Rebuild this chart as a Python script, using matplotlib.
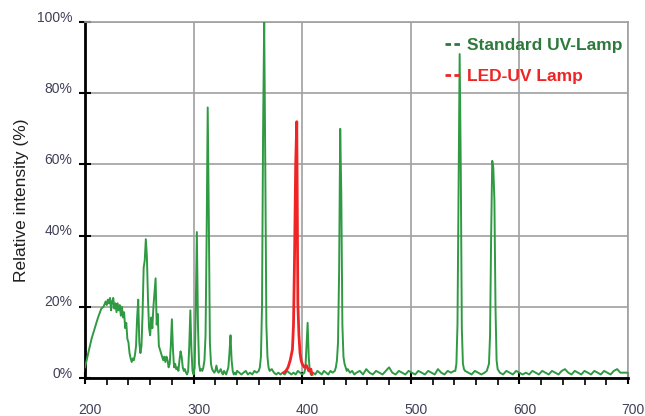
import numpy as np
import matplotlib
matplotlib.use('Agg')
import matplotlib.pyplot as plt
from matplotlib.lines import Line2D
from matplotlib.transforms import ScaledTranslation

# Standard UV lamp (mercury) spectrum as (nm, %) pairs
std_uv_short = [
    (200, 3), (203, 7), (206, 11), (209, 14), (212, 17), (215, 19.5), (217, 20), (219, 21.5),
    (220, 20.5), (221, 22), (222, 21), (223, 22.5), (224, 19), (225, 21.5), (226, 22.5),
    (227, 19.5), (228, 21), (229, 18.5), (230, 21), (231, 19), (232, 20.5), (233, 17.5),
    (234, 20), (235, 17), (236, 18.5), (237, 14), (238, 15.5), (239, 11), (240, 10), (241, 7),
    (242, 5.5), (243, 4.5), (244, 5.5), (245, 5), (246, 6.5), (247, 9), (248, 17), (249, 22),
    (250, 10), (251, 7), (252, 9), (253, 18), (254, 31), (255, 33), (256, 39), (257, 34),
    (258, 22), (259, 14), (260, 12), (261, 17), (262, 14), (263, 20), (264, 24), (265, 28),
    (266, 15), (267, 18), (268, 9), (269, 8), (270, 7), (271, 6), (272, 5), (273, 6),
    (274, 4.5), (275, 6), (276, 5), (277, 3), (278, 4), (279, 9), (280, 16.5), (281, 8),
    (282, 3), (283, 4), (284, 2.5), (285, 3), (286, 2), (287, 5), (288, 7.5), (289, 6),
    (290, 3), (291, 2), (292, 2.5), (293, 1.5), (294, 1), (295, 2), (296, 9), (297, 19),
    (298, 8), (299, 2), (300, 1), (301, 3), (302, 20), (303, 41), (304, 15), (305, 4),
]
std_uv_mid = [
    (306, 2), (307, 2.5), (308, 2), (309, 3), (310, 5), (311, 12), (312, 40), (313, 76),
    (314, 45), (315, 10), (316, 4), (317, 2.5), (318, 2), (319, 1.5), (320, 2), (321, 3.5),
    (322, 2), (323, 1.5), (324, 2), (325, 2.5), (326, 1.5), (327, 1), (328, 2), (329, 1.5),
    (330, 1), (331, 2), (332, 3), (333, 7), (334, 12), (335, 5), (336, 2), (337, 1),
    (338, 1.5), (339, 1), (340, 2), (342, 1.5), (344, 1), (346, 1.5), (348, 2), (350, 1),
    (352, 1.5), (354, 1), (356, 2), (358, 1.5), (360, 2), (361, 3), (362, 6), (363, 20),
    (364, 70), (365, 100), (366, 60), (367, 15), (368, 6), (369, 3), (370, 2), (372, 2.5),
    (374, 1.5), (376, 1), (378, 1.5), (380, 1), (382, 1.5), (384, 1), (386, 2), (388, 1.5),
    (390, 1), (392, 1.5), (394, 1), (396, 2), (398, 1.5), (400, 1), (402, 1.5), (403, 3),
    (404, 9), (405, 15.5), (406, 6), (407, 2), (408, 1), (410, 1.5), (412, 1), (414, 2),
    (416, 1.5), (418, 1), (420, 2), (422, 1.5), (424, 1), (426, 2), (428, 1.5), (430, 2),
    (431, 3), (432, 5), (433, 10), (434, 30), (435, 70), (436, 52), (437, 15), (438, 6),
    (439, 4), (440, 3), (441, 2), (442, 2.5), (444, 1.5), (446, 2), (448, 1), (450, 1.5),
]
std_uv_long = [
    (453, 2), (456, 1), (459, 2.5), (462, 1.5), (465, 1), (468, 2), (471, 1.5), (474, 1),
    (477, 2), (480, 3), (483, 1.5), (486, 1), (489, 2), (492, 1.5), (495, 1), (498, 2),
    (501, 1.5), (504, 1), (507, 2), (510, 1.5), (513, 1), (516, 2), (519, 1.5), (522, 1),
    (525, 2.5), (528, 1.5), (531, 1), (534, 2), (537, 1.5), (540, 2), (541, 2), (542, 4),
    (543, 15), (544, 55), (545, 91), (546, 60), (547, 14), (548, 4), (549, 2.5), (550, 2),
    (553, 1.5), (556, 1), (559, 2), (562, 1.5), (565, 1), (568, 1.5), (570, 2), (572, 4),
    (573, 12), (574, 40), (575, 61), (576, 59), (577, 50), (578, 20), (579, 5), (580, 2.5),
    (582, 1.5), (585, 1), (588, 2), (591, 1.5), (594, 1), (597, 2), (600, 1.5), (603, 1),
    (606, 1.5), (609, 1), (612, 2), (615, 1.5), (618, 1), (621, 2), (624, 1.5), (627, 1),
    (630, 2), (633, 1.5), (636, 1), (639, 2), (642, 2.5), (645, 1.5), (648, 1), (651, 2),
    (654, 1.5), (657, 1), (660, 2), (663, 1.5), (666, 1), (669, 2), (672, 1.5), (675, 1),
    (678, 2), (681, 1.5), (684, 1), (687, 2), (690, 2.5), (693, 1.5), (696, 1.5), (700, 1.5),
]

# LED-UV lamp spectrum
led_uv = [
    (383, 1.5), (385, 2), (387, 3), (389, 5), (391, 8), (392, 15), (393, 35), (394, 60),
    (395, 72), (396, 21), (397, 12), (398, 7), (399, 5), (400, 4), (402, 3), (404, 3.5),
    (406, 2), (408, 2.5), (409, 1),
]

x_ticks = [200, 300, 400, 500, 600, 700]
y_ticks = [0, 20, 40, 60, 80, 100]

std_wl, std_int = zip(*(std_uv_short + std_uv_mid + std_uv_long))
led_wl, led_int = zip(*led_uv)

plt.rcParams['font.family'] = ['Liberation Sans', 'DejaVu Sans']

fig = plt.figure(figsize=(6.45, 4.16), dpi=100)
ax = fig.add_axes([0.1318, 0.0913, 0.8418, 0.8558])

green = '#2f9a42'
red = '#f02424'
ax.plot(std_wl, std_int, color=green, lw=1.4, zorder=3)
ax.plot(led_wl, led_int, color=red, lw=2.0, zorder=4)

ax.set_xlim(200, 700)
ax.set_ylim(0, 100)
ax.set_xticks(x_ticks)
ax.set_xticks(np.arange(200, 701, 20), minor=True)
ax.set_yticks(y_ticks)
ax.set_yticklabels(['%d%%' % v for v in y_ticks])
ax.grid(True, which='major', color='#a0a0a0', lw=1.2, zorder=0)

for s in ['top', 'right']:
    ax.spines[s].set_color('#a0a0a0')
    ax.spines[s].set_linewidth(1.2)
for s in ['left', 'bottom']:
    ax.spines[s].set_color('black')
    ax.spines[s].set_linewidth(2)

ax.tick_params(axis='both', which='major', direction='inout', length=8, width=1.5,
               labelsize=10, labelcolor='#404058')
ax.tick_params(axis='x', which='major', pad=14)
ax.tick_params(axis='x', which='minor', direction='out', length=5, width=1.2)
ax.tick_params(axis='y', pad=5)

for lab in ax.get_yticklabels():
    lab.set_transform(lab.get_transform() + ScaledTranslation(0, 6 / 100, fig.dpi_scale_trans))
for lab in ax.get_xticklabels():
    lab.set_transform(lab.get_transform() + ScaledTranslation(5 / 100, 0, fig.dpi_scale_trans))

ax.set_ylabel('Relative intensity (%)', fontsize=12.5, color='#202020', labelpad=6)

handles = [Line2D([], [], color='#2d7a3c', lw=2, linestyle=(0, (2, 1.2))),
           Line2D([], [], color=red, lw=2, linestyle=(0, (2, 1.2)))]
leg = ax.legend(handles, ['Standard UV-Lamp', 'LED-UV Lamp'], loc='upper left',
                frameon=False, handlelength=1.0, handletextpad=0.3, labelspacing=0.9,
                prop={'size': 12.5, 'weight': 'bold'}, bbox_to_anchor=(0.637, 0.995),
                borderpad=0.3)
for t, c in zip(leg.get_texts(), ['#2d7a3c', red]):
    t.set_color(c)

fig.savefig('out.png', dpi=100)
